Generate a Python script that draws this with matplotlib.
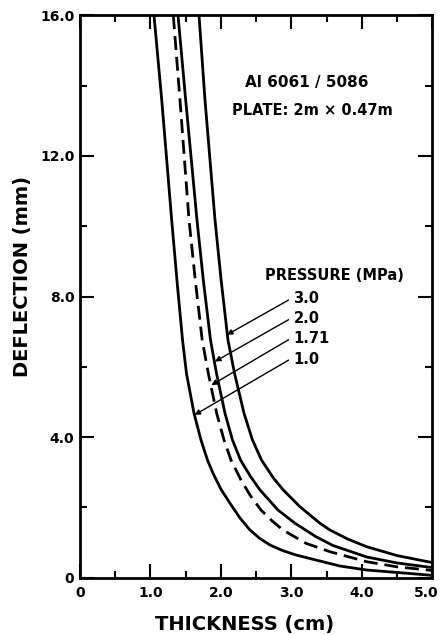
import matplotlib
matplotlib.use("Agg")
import matplotlib.pyplot as plt
from matplotlib.ticker import MultipleLocator, FixedLocator, FixedFormatter
from matplotlib.transforms import ScaledTranslation

# Plate deflection (mm) vs. thickness (cm) for several pressures
t_p10 = [1.050, 1.160, 1.301, 1.382, 1.455, 1.511, 1.618, 1.717, 1.809, 1.888,
         2.000, 2.129, 2.270, 2.413, 2.550, 2.697, 2.880, 3.066, 3.406, 3.690,
         4.069, 4.500, 4.939, 5.000]
w_p10 = [16.00, 13.59, 10.18, 8.33, 6.765, 5.815, 4.677, 3.918, 3.349, 2.970,
         2.520, 2.117, 1.700, 1.357, 1.120, 0.930, 0.770, 0.646, 0.475, 0.333,
         0.219, 0.150, 0.077, 0.068]

t_p171 = [1.324, 1.419, 1.547, 1.636, 1.734, 1.821, 1.940, 2.044, 2.143, 2.285,
          2.420, 2.569, 2.730, 2.881, 3.207, 3.548, 4.069, 4.500, 4.939, 5.000]
w_p171 = [16.00, 13.59, 10.18, 8.47, 6.765, 5.815, 4.677, 3.918, 3.349, 2.780,
          2.330, 1.926, 1.610, 1.357, 0.979, 0.740, 0.455, 0.310, 0.219, 0.205]

t_p20 = [1.391, 1.500, 1.660, 1.750, 1.852, 1.937, 2.058, 2.164, 2.278, 2.420,
         2.555, 2.810, 3.052, 3.350, 3.591, 4.069, 4.500, 4.939, 5.000]
w_p20 = [16.00, 13.59, 10.18, 8.47, 6.765, 5.815, 4.677, 3.918, 3.349, 2.880,
         2.496, 1.926, 1.548, 1.166, 0.916, 0.590, 0.420, 0.304, 0.290]

t_p30 = [1.689, 1.774, 1.916, 2.003, 2.100, 2.193, 2.328, 2.448, 2.576, 2.740,
         2.885, 3.122, 3.406, 3.548, 3.800, 4.069, 4.500, 4.939, 5.000]
w_p30 = [16.00, 13.59, 10.18, 8.47, 6.765, 5.815, 4.677, 3.918, 3.349, 2.850,
         2.496, 2.020, 1.548, 1.357, 1.100, 0.882, 0.630, 0.455, 0.432]

pressure_labels = ["3.0", "2.0", "1.71", "1.0"]
# arrow tip points on each curve (thickness, deflection)
arrow_tips = [(2.085, 6.91), (1.915, 6.15), (1.865, 5.48), (1.625, 4.63)]
label_y = [7.93, 7.37, 6.80, 6.22]

xticks_major = [0, 1, 2, 3, 4, 5]
xtick_labels = ["0", "1.0", "2.0", "3.0", "4.0", "5.0"]
yticks_major = [0, 4, 8, 12, 16]
ytick_labels = ["0", "4.0", "8.0", "12.0", "16.0"]

plt.rcParams["font.family"] = ["DejaVu Sans"]
plt.rcParams["font.weight"] = "bold"

fig = plt.figure(figsize=(4.43, 6.35), dpi=100)
ax = fig.add_axes([0.1806, 0.0902, 0.7952, 0.8857])

lw = 2.0
ax.plot(t_p10, w_p10, color="black", lw=lw, solid_joinstyle="round")
ax.plot(t_p171, w_p171, color="black", lw=lw, dashes=(5, 2.5))
ax.plot(t_p20, w_p20, color="black", lw=lw, solid_joinstyle="round")
ax.plot(t_p30, w_p30, color="black", lw=lw, solid_joinstyle="round")

ax.set_xlim(0, 5)
ax.set_ylim(0, 16)

ax.xaxis.set_major_locator(FixedLocator(xticks_major))
ax.xaxis.set_major_formatter(FixedFormatter(xtick_labels))
ax.xaxis.set_minor_locator(MultipleLocator(0.5))
ax.yaxis.set_major_locator(FixedLocator(yticks_major))
ax.yaxis.set_major_formatter(FixedFormatter(ytick_labels))
ax.yaxis.set_minor_locator(MultipleLocator(2))

ax.tick_params(which="both", direction="in", top=True, right=True,
               width=1.5, labelsize=10)
ax.tick_params(axis="y", pad=4)
ax.tick_params(axis="x", pad=6)
ax.tick_params(which="major", length=10)
ax.tick_params(which="minor", length=5)
for s in ax.spines.values():
    s.set_linewidth(2.0)

# keep the last thickness label inside the canvas
last_lbl = ax.get_xticklabels()[-1]
last_lbl.set_transform(last_lbl.get_transform()
                       + ScaledTranslation(-6 / 100, 0, fig.dpi_scale_trans))

ax.set_xlabel("THICKNESS (cm)", fontsize=14, fontweight="bold")
ax.set_ylabel("DEFLECTION (mm)", fontsize=14, fontweight="bold")
ax.xaxis.set_label_coords(0.468, -0.066)
ax.yaxis.set_label_coords(-0.135, 0.536)

ax.text(2.34, 14.1, "Al 6061 / 5086", fontsize=11, va="center", ha="left")
ax.text(2.16, 13.3, "PLATE: 2m \u00d7 0.47m", fontsize=10.5, va="center", ha="left")
ax.text(2.63, 8.61, "PRESSURE (MPa)", fontsize=10.5, va="center", ha="left")

for lab, (tx, ty), ly in zip(pressure_labels, arrow_tips, label_y):
    ax.annotate("", xy=(tx, ty), xytext=(2.96, ly - 0.03),
                arrowprops=dict(arrowstyle="-|>", color="black", lw=1.0,
                                mutation_scale=8, shrinkA=0, shrinkB=0))
    ax.text(3.03, ly, lab, fontsize=10.5, va="center", ha="left")

fig.savefig("out.png", dpi=100)
